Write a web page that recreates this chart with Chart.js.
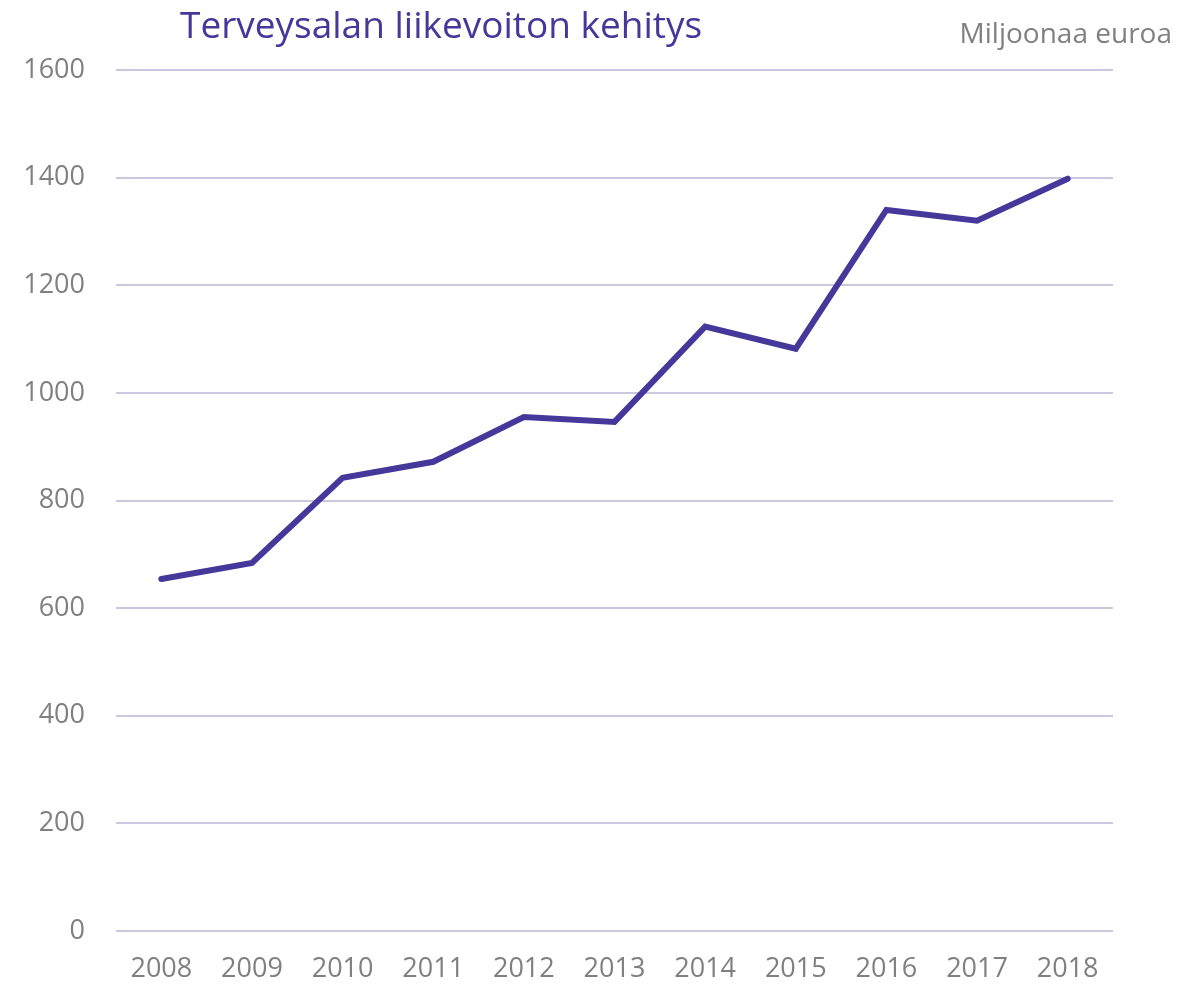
<!DOCTYPE html>
<html>
<head>
<meta charset="utf-8">
<script src="https://cdn.jsdelivr.net/npm/chart.js@4"></script>
<style>
html,body{margin:0;padding:0;background:#fff;}
canvas{display:block;}
</style>
</head>
<body>
<canvas id="c" width="1196" height="986"></canvas>
<script>
const years = ["2008","2009","2010","2011","2012","2013","2014","2015","2016","2017","2018"];
const profit = [654, 684, 842, 872, 955, 946, 1123, 1082, 1340, 1320, 1398];
const yTicks = [0, 200, 400, 600, 800, 1000, 1200, 1400, 1600];
const titleText = "Terveysalan liikevoiton kehitys";
const unitText = "Miljoonaa euroa";

const textPlugin = {
  id: 'texts',
  afterDraw(chart) {
    const ctx = chart.ctx;
    ctx.save();
    ctx.textBaseline = 'alphabetic';
    ctx.fillStyle = '#46389a';
    ctx.font = '37px "Open Sans"';
    ctx.textAlign = 'left';
    ctx.fillText(titleText, 180, 38);
    ctx.fillStyle = '#808080';
    ctx.font = '28px "Open Sans"';
    ctx.textAlign = 'right';
    ctx.fillText(unitText, 1172, 43);
    ctx.restore();
  }
};

new Chart(document.getElementById('c'), {
  type: 'line',
  data: {
    labels: years,
    datasets: [{
      data: profit,
      borderColor: '#46389a',
      borderWidth: 6,
      pointRadius: 0,
      tension: 0,
      fill: false,
      borderCapStyle: 'round',
      borderJoinStyle: 'miter'
    }]
  },
  options: {
    responsive: false,
    animation: false,
    layout: { padding: { top: 70, right: 83, left: 0, bottom: 0 } },
    plugins: { legend: { display: false }, title: { display: false }, tooltip: { enabled: false } },
    scales: {
      x: {
        offset: true,
        grid: { display: false, drawTicks: false },
        border: { display: false },
        ticks: { color: '#808080', font: { family: 'Open Sans', size: 27 }, padding: 22, maxRotation: 0 },
        afterFit(s) { s.height = 55; }
      },
      y: {
        min: 0, max: 1600,
        afterBuildTicks(s) { s.ticks = yTicks.map(v => ({ value: v })); },
        grid: { color: '#cac8de', lineWidth: 2, drawTicks: false },
        border: { display: false },
        ticks: { color: '#808080', font: { family: 'Open Sans', size: 27 }, padding: 31, callback: v => String(v) },
        afterFit(s) { s.width = 116; }
      }
    }
  },
  plugins: [textPlugin]
});
</script>
</body>
</html>
